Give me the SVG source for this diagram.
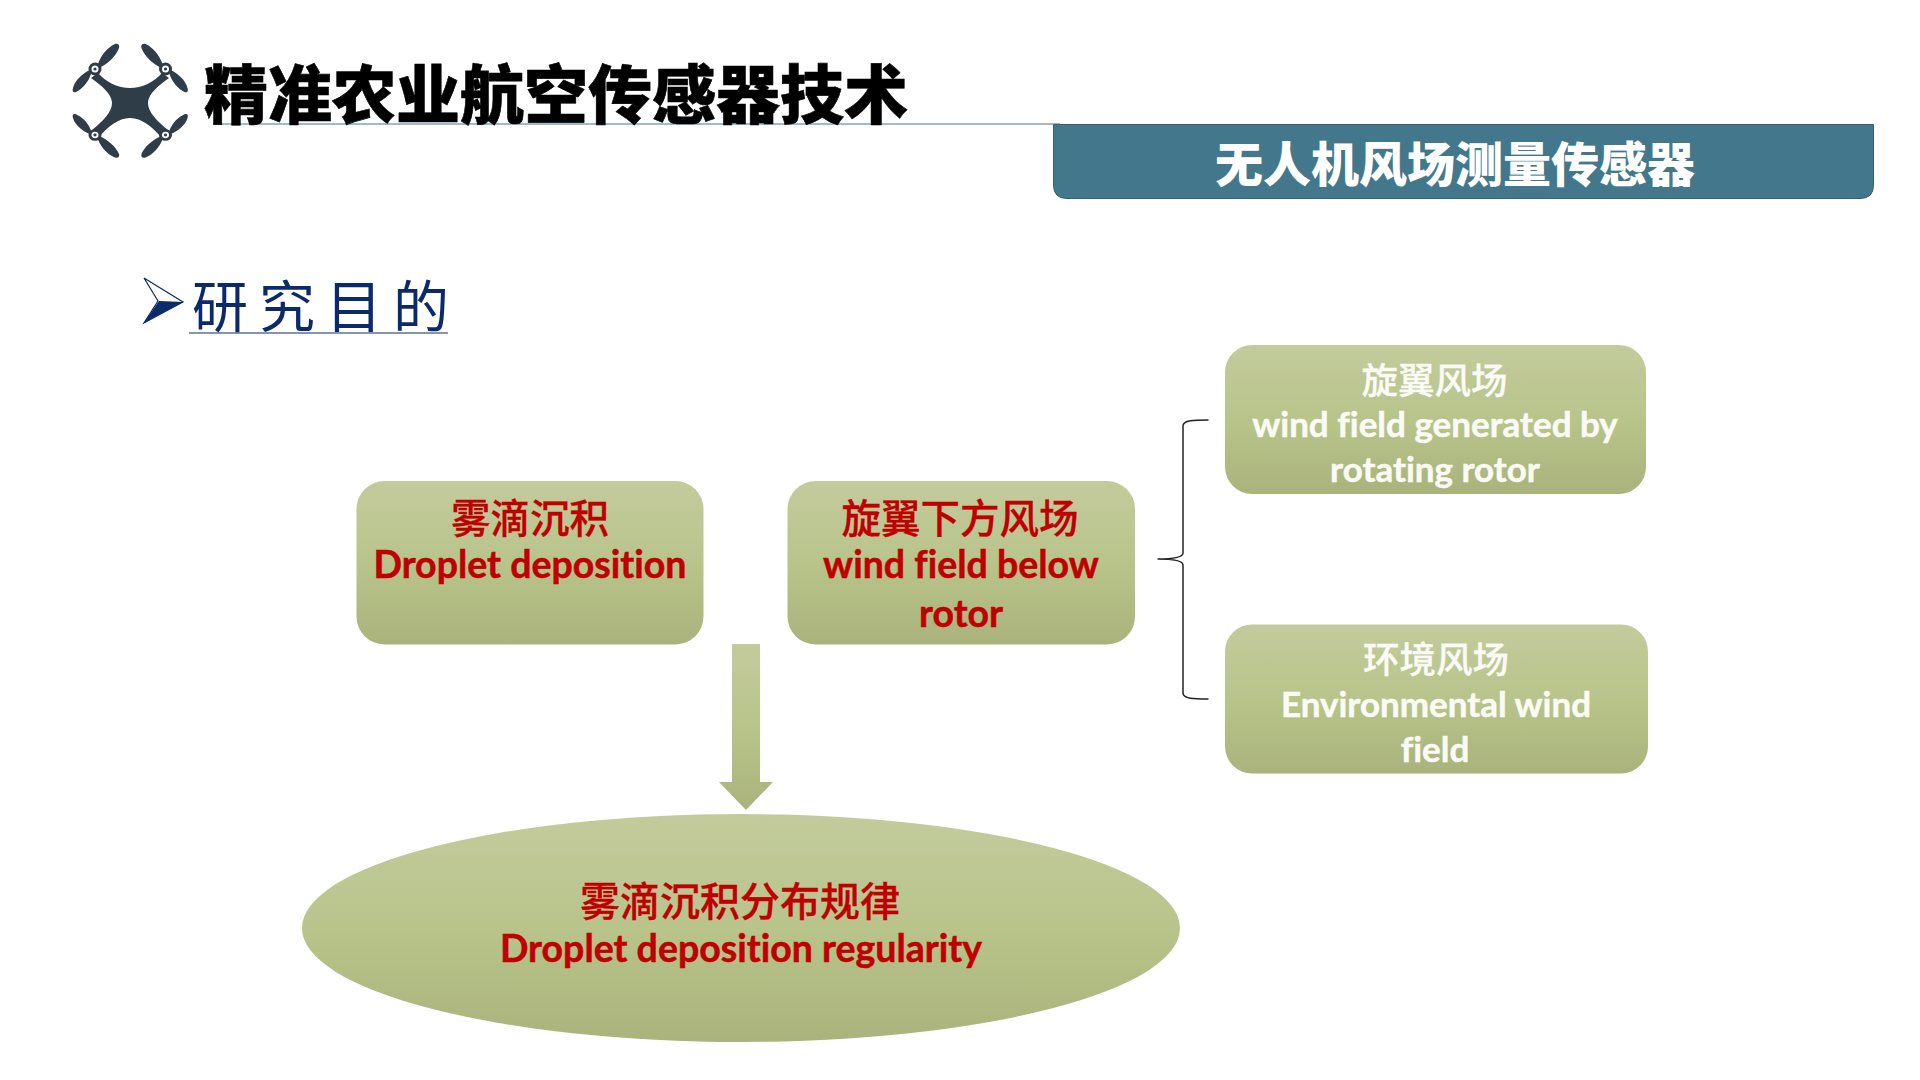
<svg xmlns="http://www.w3.org/2000/svg" xmlns:xlink="http://www.w3.org/1999/xlink" width="1920" height="1080" viewBox="0 0 1920 1080">
<style>
.cjk{font-family:"Noto Sans CJK SC",sans-serif}
.en{font-family:Lato,"Noto Sans CJK SC",sans-serif;font-weight:700;font-variant-ligatures:none;stroke-width:.5}
.red{fill:#c00000;stroke:#c00000}
.wht{fill:#fbfbf6;stroke:#fbfbf6}
.cjk.red,.cjk.wht{stroke-width:.3}
.mid{text-anchor:middle}
.r{font-size:37.500px}
.w{font-size:35px}
</style>
<defs>
<linearGradient id="g" x1="0" y1="0" x2="0" y2="1">
<stop offset="0" stop-color="#c3cb9c"/><stop offset="0.5" stop-color="#b9c48b"/><stop offset="1" stop-color="#a9b37b"/>
</linearGradient>
<g id="rotor">
<path d="M3,-5 C6,-14 13,-22 20,-25 C23,-26 25,-24 24,-21 C21,-13 13,-5 4,-1 Z M-4,5 C-7,14 -13,20 -19,23 C-22,24 -23,22 -22,19 C-20,11 -12,4 -5,1 Z" fill="#2f3d48"/>
<circle r="6.500" fill="#2f3d48"/><circle r="3.500" fill="#fff"/><circle r="1.600" fill="#2f3d48"/>
</g>
</defs>
<rect width="1920" height="1080" fill="#fff"/>
<g id="logo">
<path d="M98,73 C106,82 118,88 130,88 C142,88 154,82 162,73 L169,78 C158,86 148,94 148,103 C148,112 157,121 168,130 L161,137 C152,127 142,118 130,118 C118,118 108,127 99,137 L92,130 C103,121 112,112 112,103 C112,94 102,86 91,78 Z" fill="#2f3d48"/>
<use xlink:href="#rotor" href="#rotor" transform="translate(95,69)"/>
<use xlink:href="#rotor" href="#rotor" transform="translate(165.500,69) scale(-1,1)"/>
<use xlink:href="#rotor" href="#rotor" transform="translate(95,135) scale(1,-.9)"/>
<use xlink:href="#rotor" href="#rotor" transform="translate(165.500,135) scale(-1,-.9)"/>
</g>
<g id="title">
<line x1="213" y1="124" x2="1060" y2="124" stroke="#43788c" stroke-width="1.200"/>
<text class="cjk" x="204" y="118" font-size="64" font-weight="900" fill="#000" stroke="#000" stroke-width=".6">精准农业航空传感器技术</text>
</g>
<g id="banner">
<path d="M1053.500,124.500 H1873.500 V185 Q1873.500,198.500 1860,198.500 H1067 Q1053.500,198.500 1053.500,185 Z" fill="#43788c" stroke="#35606f" stroke-width="1"/>
<text class="cjk mid" x="1455" y="182" font-size="48" font-weight="900" fill="#fff">无人机风场测量传感器</text>
</g>
<g id="heading">
<path d="M144,278 L183,302 L144,323 L158,301 Z" fill="#fff" stroke="#0b2a6b" stroke-width="1.200"/>
<path d="M144,323 L159,301 L183,302 Z" fill="#0b2a6b"/>
<text class="cjk" x="192" y="327" font-size="56" font-weight="400" letter-spacing="11" fill="#0b2a6b">研究目的</text>
<line x1="189" y1="333" x2="448" y2="333" stroke="#0b2a6b" stroke-width="1.200"/>
</g>
<g id="connectors">
<path id="arrow" d="M732,644 H760 V782 H773 L746,810 L719,782 H732 Z" fill="url(#g)"/>
<path id="brace" d="M1208.500,420 C1194,420 1183,420 1183,426 V553 C1183,556 1178,559 1157.500,559 C1178,559 1183,562 1183,565 V693 C1183,699 1194,699 1208.500,699" fill="none" stroke="#222" stroke-width="1.500"/>
</g>
<g id="node-droplet">
<rect x="356.500" y="481" width="347" height="163.500" rx="28" fill="url(#g)"/>
<text class="cjk mid red" x="530" y="533" font-size="39.500" font-weight="500">雾滴沉积</text>
<text class="en mid red r" x="530" y="578">Droplet deposition</text>
</g>
<g id="node-below">
<rect x="787.500" y="481" width="347.500" height="163.500" rx="28" fill="url(#g)"/>
<text class="cjk mid red" x="960" y="533" font-size="39.500" font-weight="500">旋翼下方风场</text>
<text class="en mid red r" x="961" y="578">wind field below</text>
<text class="en mid red r" x="961" y="627">rotor</text>
</g>
<g id="node-rotor">
<rect x="1225" y="345" width="421" height="149" rx="27" fill="url(#g)"/>
<text class="cjk mid wht" x="1434.500" y="394" font-size="36.500" font-weight="500">旋翼风场</text>
<text class="en mid wht w" x="1435" y="437">wind field generated by</text>
<text class="en mid wht w" x="1435" y="482">rotating rotor</text>
</g>
<g id="node-env">
<rect x="1225" y="624.500" width="423" height="149" rx="27" fill="url(#g)"/>
<text class="cjk mid wht" x="1436" y="673" font-size="36.500" font-weight="500">环境风场</text>
<text class="en mid wht w" x="1436" y="717">Environmental wind</text>
<text class="en mid wht w" x="1435" y="762">field</text>
</g>
<g id="node-regularity">
<ellipse cx="741" cy="928" rx="439" ry="114" fill="url(#g)"/>
<text class="cjk mid red" x="740" y="916" font-size="40" font-weight="500">雾滴沉积分布规律</text>
<text class="en mid red r" x="741" y="962">Droplet deposition regularity</text>
</g>
</svg>
